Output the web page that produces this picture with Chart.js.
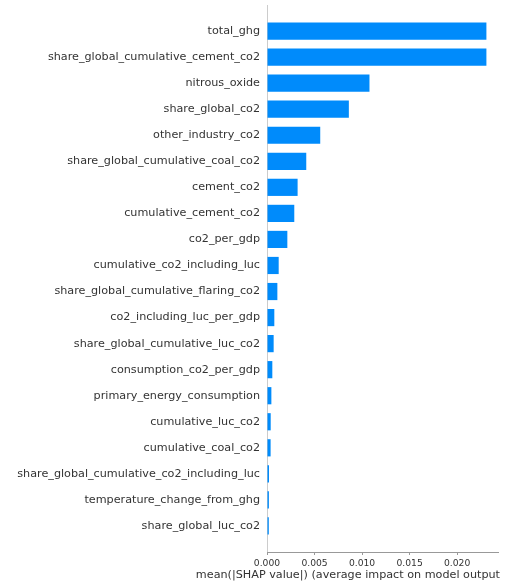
<!DOCTYPE html>
<html>
<head>
<meta charset="utf-8">
<script src="https://cdn.jsdelivr.net/npm/chart.js@4.4.0/dist/chart.umd.min.js"></script>
<style>
  html, body { margin: 0; padding: 0; background: #fff; }
  #wrap { width: 508px; height: 586px; }
</style>
</head>
<body>
<div id="wrap"><canvas id="chart"></canvas></div>
<script>
// features, top to bottom
const features = [
  "total_ghg",
  "share_global_cumulative_cement_co2",
  "nitrous_oxide",
  "share_global_co2",
  "other_industry_co2",
  "share_global_cumulative_coal_co2",
  "cement_co2",
  "cumulative_cement_co2",
  "co2_per_gdp",
  "cumulative_co2_including_luc",
  "share_global_cumulative_flaring_co2",
  "co2_including_luc_per_gdp",
  "share_global_cumulative_luc_co2",
  "consumption_co2_per_gdp",
  "primary_energy_consumption",
  "cumulative_luc_co2",
  "cumulative_coal_co2",
  "share_global_cumulative_co2_including_luc",
  "temperature_change_from_ghg",
  "share_global_luc_co2"
];

// mean |SHAP value|
const meanShap = [
  0.02308, 0.02308, 0.01078, 0.00861, 0.00560,
  0.00413, 0.00322, 0.00287, 0.00214, 0.00123,
  0.00109, 0.00077, 0.00070, 0.00056, 0.00046,
  0.00039, 0.00038, 0.00021, 0.00020, 0.00019
];

const xTicks = [0, 0.005, 0.010, 0.015, 0.020];
const xLabel = "mean(|SHAP value|) (average impact on model output)";

const points = meanShap.map((v, i) => ({ x: v, y: i }));

// x label drawn by hand so it can run past the axis like the original
const xLabelPlugin = {
  id: "xLabel",
  afterDraw(chart) {
    const c = chart.ctx;
    c.save();
    c.font = "11.2px 'DejaVu Sans'";
    c.fillStyle = "#333333";
    c.textBaseline = "middle";
    const full = c.measureText(xLabel).width;
    const last = c.measureText(")").width;
    const start = 500 - (full - last);
    c.beginPath();
    c.rect(0, 0, 501, chart.height);
    c.clip();
    c.fillText(xLabel, start, 575);
    c.restore();
  }
};

const ctx = document.getElementById("chart");

new Chart(ctx, {
  type: "bar",
  data: {
    datasets: [
      {
        data: points,
        backgroundColor: "#008bfb",
        borderWidth: 0,
        barPercentage: 0.66,
        categoryPercentage: 1
      }
    ]
  },
  options: {
    indexAxis: "y",
    responsive: true,
    maintainAspectRatio: false,
    animation: false,
    layout: { padding: { left: 0, right: 10, top: 5, bottom: 0 } },
    plugins: {
      legend: { display: false },
      tooltip: { enabled: false }
    },
    scales: {
      y: {
        type: "linear",
        reverse: true,
        offset: false,
        min: -1,
        max: features.length,
        grid: { display: false, drawTicks: false },
        border: { display: true, color: "#cccccc", width: 1 },
        afterBuildTicks: (scale) => {
          scale.ticks = features.map((f, i) => ({ value: i }));
        },
        afterFit: (scale) => {
          scale.width = 267;
          scale.paddingTop = 0;
          scale.paddingBottom = 0;
        },
        ticks: {
          autoSkip: false,
          padding: 7,
          color: "#333333",
          font: { family: "DejaVu Sans", size: 11.2 },
          callback: (v) => features[v]
        }
      },
      x: {
        type: "linear",
        min: 0,
        max: 0.0243,
        afterBuildTicks: (scale) => {
          scale.ticks = xTicks.map((t) => ({ value: t }));
        },
        afterFit: (scale) => {
          scale.height = 34;
        },
        grid: {
          display: true,
          drawOnChartArea: false,
          drawTicks: true,
          tickLength: 3,
          color: "#999999"
        },
        border: { display: true, color: "#999999", width: 1 },
        ticks: {
          padding: 3,
          color: "#333333",
          font: { family: "DejaVu Sans", size: 9.2 },
          callback: (v) => v.toFixed(3)
        }
      }
    }
  },
  plugins: [xLabelPlugin]
});
</script>
</body>
</html>
